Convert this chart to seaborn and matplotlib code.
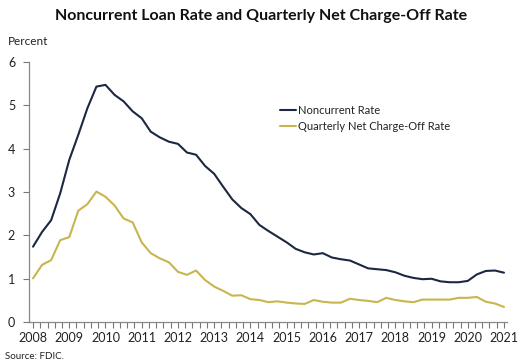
import numpy as np
import pandas as pd
import matplotlib
matplotlib.use("Agg")
import matplotlib.pyplot as plt
from matplotlib.ticker import MultipleLocator
import seaborn as sns

sns.set_style("white")
plt.rcParams["font.family"] = ["Lato", "DejaVu Sans"]

# quarterly, 2008Q1 .. 2021Q1
quarters = np.arange(2008, 2021.01, 0.25)

noncurrent = [1.74, 2.08, 2.35, 2.97, 3.74, 4.32, 4.93, 5.43, 5.47, 5.24,
              5.09, 4.86, 4.70, 4.39, 4.26, 4.16, 4.11, 3.91, 3.86, 3.60,
              3.42, 3.12, 2.83, 2.63, 2.49, 2.24, 2.10, 1.97, 1.84, 1.69,
              1.61, 1.56, 1.59, 1.49, 1.45, 1.42, 1.33, 1.24, 1.22, 1.20,
              1.15, 1.07, 1.02, 0.99, 1.00, 0.94, 0.92, 0.92, 0.95, 1.10,
              1.18, 1.19, 1.14]

chargeoff = [1.01, 1.32, 1.43, 1.89, 1.96, 2.57, 2.72, 3.01, 2.89, 2.69,
             2.39, 2.30, 1.84, 1.59, 1.47, 1.38, 1.16, 1.09, 1.19, 0.97,
             0.82, 0.72, 0.61, 0.62, 0.53, 0.51, 0.46, 0.48, 0.45, 0.43,
             0.42, 0.51, 0.47, 0.45, 0.45, 0.54, 0.51, 0.49, 0.46, 0.56,
             0.51, 0.48, 0.46, 0.52, 0.52, 0.52, 0.52, 0.56, 0.56, 0.58,
             0.47, 0.43, 0.35]

series_names = ["Noncurrent Rate", "Quarterly Net Charge-Off Rate"]
colors = ["#1c2840", "#c9b54e"]
years = list(range(2008, 2022))

df = pd.DataFrame({
    "date": np.concatenate([quarters, quarters]),
    "rate": noncurrent + chargeoff,
    "series": [series_names[0]] * len(quarters) + [series_names[1]] * len(quarters),
})

fig = plt.figure(figsize=(5.28, 3.64), dpi=100)
ax = fig.add_axes([0.055, 0.115, 0.905, 0.715])

sns.lineplot(data=df, x="date", y="rate", hue="series", palette=colors,
             linewidth=1.5, ax=ax)

ax.set_xlim(2007.89, 2021.08)
ax.set_ylim(0, 6)
ax.set_xticks(years)
ax.set_xticklabels([str(y) for y in years], fontsize=9, color="#222222")
ax.xaxis.set_minor_locator(MultipleLocator(0.2))
ax.set_yticks(range(0, 7))
ax.set_yticklabels([str(v) for v in range(0, 7)], fontsize=9, color="#222222")
ax.tick_params(axis="x", which="both", direction="out", length=4, width=0.8,
               color="#777777", bottom=True, pad=3)
ax.tick_params(axis="y", direction="out", length=4, width=0.8,
               color="#777777", left=True, pad=6)
ax.set_xlabel("")
ax.set_ylabel("")

sns.despine(ax=ax)
for s in ["left", "bottom"]:
    ax.spines[s].set_color("#888888")
    ax.spines[s].set_linewidth(0.9)

leg = ax.legend(loc="upper left", bbox_to_anchor=(0.515, 0.85), frameon=False,
                fontsize=8, handlelength=1.5, handletextpad=0.2,
                labelspacing=0.45, borderaxespad=0)
for t in leg.get_texts():
    t.set_color("#222222")

fig.text(0.495, 0.955, "Noncurrent Loan Rate and Quarterly Net Charge-Off Rate",
         ha="center", va="center", fontsize=11.5, fontweight="bold", color="#111111")
fig.text(0.015, 0.885, "Percent", ha="left", va="center", fontsize=8.5, color="#222222")
fig.text(0.01, 0.02, "Source: FDIC.", ha="left", va="center", fontsize=7, color="#222222")

fig.savefig("out.png", dpi=100)
